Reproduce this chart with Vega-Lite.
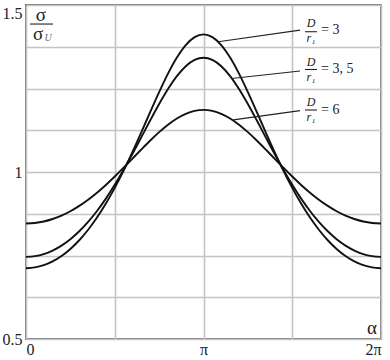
{
  "$schema": "https://vega.github.io/schema/vega-lite/v6.json",
  "width": 355,
  "height": 334,
  "autosize": {"type": "none"},
  "padding": {"left": 26, "top": 5, "right": 9, "bottom": 21},
  "background": "white",
  "config": {
    "view": {"stroke": "#7a7a7a", "strokeWidth": 2},
    "axis": {"grid": true, "gridColor": "#c4c4c4", "gridWidth": 1.6, "domain": false, "ticks": false, "labelFont": "Times New Roman, Liberation Serif, DejaVu Serif, serif", "labelFontSize": 16, "labelColor": "#222", "title": null}
  },
  "datasets": {
    "curves": [
      {"a": 0, "d3": 0.712, "d35": 0.746, "d6": 0.846},
      {"a": 0.05, "d3": 0.7143, "d35": 0.7481, "d6": 0.8475},
      {"a": 0.1, "d3": 0.7211, "d35": 0.7543, "d6": 0.8519},
      {"a": 0.15, "d3": 0.7325, "d35": 0.7649, "d6": 0.8593},
      {"a": 0.2, "d3": 0.7486, "d35": 0.7797, "d6": 0.8695},
      {"a": 0.25, "d3": 0.7697, "d35": 0.7988, "d6": 0.8826},
      {"a": 0.3, "d3": 0.7957, "d35": 0.8225, "d6": 0.8985},
      {"a": 0.35, "d3": 0.827, "d35": 0.8506, "d6": 0.9171},
      {"a": 0.4, "d3": 0.8635, "d35": 0.8833, "d6": 0.9381},
      {"a": 0.45, "d3": 0.9054, "d35": 0.9203, "d6": 0.9613},
      {"a": 0.5, "d3": 0.9525, "d35": 0.9616, "d6": 0.9864},
      {"a": 0.55, "d3": 1.0044, "d35": 1.0066, "d6": 1.0129},
      {"a": 0.6, "d3": 1.0605, "d35": 1.0546, "d6": 1.0403},
      {"a": 0.65, "d3": 1.1195, "d35": 1.1045, "d6": 1.0677},
      {"a": 0.7, "d3": 1.1799, "d35": 1.1548, "d6": 1.0944},
      {"a": 0.75, "d3": 1.2391, "d35": 1.2035, "d6": 1.1193},
      {"a": 0.8, "d3": 1.2945, "d35": 1.2484, "d6": 1.1416},
      {"a": 0.85, "d3": 1.3425, "d35": 1.287, "d6": 1.1603},
      {"a": 0.9, "d3": 1.38, "d35": 1.3168, "d6": 1.1743},
      {"a": 0.95, "d3": 1.4038, "d35": 1.3356, "d6": 1.183},
      {"a": 1.0, "d3": 1.412, "d35": 1.342, "d6": 1.186},
      {"a": 1.05, "d3": 1.4038, "d35": 1.3356, "d6": 1.183},
      {"a": 1.1, "d3": 1.38, "d35": 1.3168, "d6": 1.1743},
      {"a": 1.15, "d3": 1.3425, "d35": 1.287, "d6": 1.1603},
      {"a": 1.2, "d3": 1.2945, "d35": 1.2484, "d6": 1.1416},
      {"a": 1.25, "d3": 1.2391, "d35": 1.2035, "d6": 1.1193},
      {"a": 1.3, "d3": 1.1799, "d35": 1.1548, "d6": 1.0944},
      {"a": 1.35, "d3": 1.1195, "d35": 1.1045, "d6": 1.0677},
      {"a": 1.4, "d3": 1.0605, "d35": 1.0546, "d6": 1.0403},
      {"a": 1.45, "d3": 1.0044, "d35": 1.0066, "d6": 1.0129},
      {"a": 1.5, "d3": 0.9525, "d35": 0.9616, "d6": 0.9864},
      {"a": 1.55, "d3": 0.9054, "d35": 0.9203, "d6": 0.9613},
      {"a": 1.6, "d3": 0.8635, "d35": 0.8833, "d6": 0.9381},
      {"a": 1.65, "d3": 0.827, "d35": 0.8506, "d6": 0.9171},
      {"a": 1.7, "d3": 0.7957, "d35": 0.8225, "d6": 0.8985},
      {"a": 1.75, "d3": 0.7697, "d35": 0.7988, "d6": 0.8826},
      {"a": 1.8, "d3": 0.7486, "d35": 0.7797, "d6": 0.8695},
      {"a": 1.85, "d3": 0.7325, "d35": 0.7649, "d6": 0.8593},
      {"a": 1.9, "d3": 0.7211, "d35": 0.7543, "d6": 0.8519},
      {"a": 1.95, "d3": 0.7143, "d35": 0.7481, "d6": 0.8475},
      {"a": 2.0, "d3": 0.712, "d35": 0.746, "d6": 0.846}
    ],
    "leaders": [
      {"a": 1.083, "v": 1.39, "a2": 1.5437, "v2": 1.425},
      {"a": 1.159, "v": 1.28, "a2": 1.5437, "v2": 1.3024},
      {"a": 1.168, "v": 1.156, "a2": 1.5437, "v2": 1.1835}
    ],
    "bars": [
      {"a": 1.572, "a2": 1.639, "v": 1.42},
      {"a": 1.572, "a2": 1.639, "v": 1.3069},
      {"a": 1.572, "a2": 1.639, "v": 1.1856},
      {"a": 0.0225, "a2": 0.152, "v": 1.443}
    ],
    "italics": [
      {"a": 1.6056, "v": 1.4461, "t": "D"},
      {"a": 1.6056, "v": 1.4012, "t": "r₁"},
      {"a": 1.6056, "v": 1.3293, "t": "D"},
      {"a": 1.6056, "v": 1.2844, "t": "r₁"},
      {"a": 1.6056, "v": 1.2096, "t": "D"},
      {"a": 1.6056, "v": 1.1647, "t": "r₁"}
    ],
    "eqs": [
      {"a": 1.662, "v": 1.425, "t": "= 3"},
      {"a": 1.662, "v": 1.3069, "t": "= 3, 5"},
      {"a": 1.662, "v": 1.1856, "t": "= 6"}
    ],
    "greek": [
      {"a": 0.0845, "v": 1.47, "t": "σ"},
      {"a": 0.068, "v": 1.413, "t": "σ"},
      {"a": 1.949, "v": 0.533, "t": "α"}
    ],
    "sub": [
      {"a": 0.125, "v": 1.402, "t": "U"}
    ]
  },
  "encoding": {
    "x": {"field": "a", "type": "quantitative", "scale": {"domain": [0, 2], "nice": false, "zero": false},
      "axis": {"values": [0, 0.5, 1, 1.5, 2], "labelExpr": "datum.value == 0 ? '0' : datum.value == 1 ? 'π' : datum.value == 2 ? '2π' : ''", "labelFlush": true, "labelPadding": 2}},
    "y": {"field": "v", "type": "quantitative", "scale": {"domain": [0.5, 1.5], "nice": false, "zero": false},
      "axis": {"values": [0.5, 0.625, 0.75, 0.875, 1, 1.125, 1.25, 1.375, 1.5], "labelExpr": "datum.value == 0.5 ? '0.5' : datum.value == 1 ? '1' : datum.value == 1.5 ? '1.5' : ''", "labelPadding": 4, "labelBaseline": {"condition": {"test": "datum.value == 1.5", "value": "top"}, "value": "middle"}}}
  },
  "layer": [
    {
      "data": {"name": "curves"},
      "transform": [{"fold": ["d3", "d35", "d6"], "as": ["k", "v"]}],
      "mark": {"type": "line", "color": "#111", "strokeWidth": 1.9, "interpolate": "monotone"},
      "encoding": {"detail": {"field": "k"}}
    },
    {
      "data": {"name": "leaders"},
      "mark": {"type": "rule", "color": "#222", "strokeWidth": 1.2},
      "encoding": {"x2": {"field": "a2"}, "y2": {"field": "v2"}}
    },
    {
      "data": {"name": "bars"},
      "mark": {"type": "rule", "color": "#222", "strokeWidth": 1.1},
      "encoding": {"x2": {"field": "a2"}}
    },
    {
      "data": {"name": "italics"},
      "mark": {"type": "text", "font": "Times New Roman, Liberation Serif, DejaVu Serif, serif", "fontStyle": "italic", "fontSize": 12, "color": "#222", "align": "center", "baseline": "middle"},
      "encoding": {"text": {"field": "t"}}
    },
    {
      "data": {"name": "eqs"},
      "mark": {"type": "text", "font": "Times New Roman, Liberation Serif, DejaVu Serif, serif", "fontSize": 14, "color": "#222", "align": "left", "baseline": "middle"},
      "encoding": {"text": {"field": "t"}}
    },
    {
      "data": {"name": "greek"},
      "mark": {"type": "text", "font": "Times New Roman, Liberation Serif, DejaVu Serif, serif", "fontSize": 19, "color": "#222", "align": "center", "baseline": "middle"},
      "encoding": {"text": {"field": "t"}}
    },
    {
      "data": {"name": "sub"},
      "mark": {"type": "text", "font": "Times New Roman, Liberation Serif, DejaVu Serif, serif", "fontStyle": "italic", "fontSize": 10, "color": "#666", "align": "center", "baseline": "middle"},
      "encoding": {"text": {"field": "t"}}
    }
  ]
}
